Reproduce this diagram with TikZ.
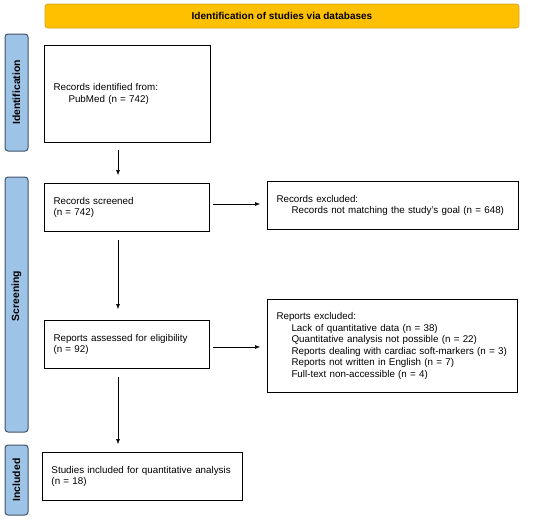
\documentclass[tikz,border=0pt]{standalone}
\usepackage{fontspec}
\setmainfont{Liberation Sans}
\usetikzlibrary{arrows.meta}
\definecolor{hdrfill}{HTML}{FFC000}
\definecolor{hdrdraw}{HTML}{D9A21B}
\definecolor{barfill}{HTML}{9DC3E6}
\definecolor{bardraw}{HTML}{44546A}
\tikzset{
  stagebox/.style={draw=black, line width=1pt, fill=white, anchor=north west, inner xsep=9pt, inner ysep=0pt, align=left, font=\fontsize{9.8}{11.6}\selectfont},
  sidebar/.style={draw=bardraw, line width=1pt, fill=barfill, rounded corners=3pt},
  sidelabel/.style={rotate=90, font=\fontsize{10.4}{12}\selectfont\bfseries},
  header/.style={draw=hdrdraw, line width=0.8pt, fill=hdrfill, rounded corners=3pt},
  flow/.style={-{Latex[length=5pt,width=4pt]}, line width=0.5pt}
}
\begin{document}
\begin{tikzpicture}[x=1pt,y=-1pt]
\useasboundingbox[fill=white] (0,0) rectangle (550,520);
% header
\draw[header] (45,4) rectangle (519,28);
\node[font=\fontsize{10}{12}\selectfont\bfseries] (hdr) at (282,16) {Identification of studies via databases};
% side bars
\draw[sidebar] (5,34) rectangle (28,151);
\node[sidelabel] (lid) at (16.5,92.5) {Identification};
\draw[sidebar] (5,177) rectangle (28,432);
\node[sidelabel] (lsc) at (16.5,296) {Screening};
\draw[sidebar] (5,445) rectangle (28,515);
\node[sidelabel] (lin) at (16.5,480) {Included};
% boxes
\node[stagebox, minimum width=166pt, minimum height=97pt, text width=148pt] (ident) at (44,45)
  {Records identified from:\\\hspace*{15pt}PubMed (n = 742)};
\node[stagebox, minimum width=165pt, minimum height=48pt, text width=147pt] (screen) at (44,183)
  {Records screened\\(n = 742)};
\node[stagebox, minimum width=251pt, minimum height=48pt, text width=233pt] (excl1) at (267,181)
  {Records excluded:\\\hspace*{15pt}\mbox{Records not matching the study’s goal (n = 648)}};
\node[stagebox, minimum width=250pt, minimum height=93pt, text width=232pt] (excl2) at (267,299)
  {Reports excluded:\\
   \hspace*{15pt}\mbox{Lack of quantitative data (n = 38)}\\
   \hspace*{15pt}\mbox{Quantitative analysis not possible (n = 22)}\\
   \hspace*{15pt}\mbox{Reports dealing with cardiac soft-markers (n = 3)}\\
   \hspace*{15pt}\mbox{Reports not written in English (n = 7)}\\
   \hspace*{15pt}\mbox{Full-text non-accessible (n = 4)}};
\node[stagebox, minimum width=165pt, minimum height=48pt, text width=147pt] (assess) at (44,320)
  {Reports assessed for eligibility\\(n = 92)};
\node[stagebox, minimum width=200pt, minimum height=48pt, text width=182pt] (incl) at (42,452)
  {Studies included for quantitative analysis\\(n = 18)};
% connectors
\coordinate (a1s) at (118,150);
\coordinate (a1e) at (118,175);
\draw[flow] (a1s) -- (a1e);
\coordinate (h1s) at (213,204);
\coordinate (h1e) at (260,204);
\draw[flow] (h1s) -- (h1e);
\coordinate (a2s) at (118,240);
\coordinate (a2e) at (118,309);
\draw[flow] (a2s) -- (a2e);
\coordinate (h2s) at (213,347);
\coordinate (h2e) at (260,347);
\draw[flow] (h2s) -- (h2e);
\coordinate (a3s) at (118,377);
\coordinate (a3e) at (118,444);
\draw[flow] (a3s) -- (a3e);
\end{tikzpicture}
\end{document}
